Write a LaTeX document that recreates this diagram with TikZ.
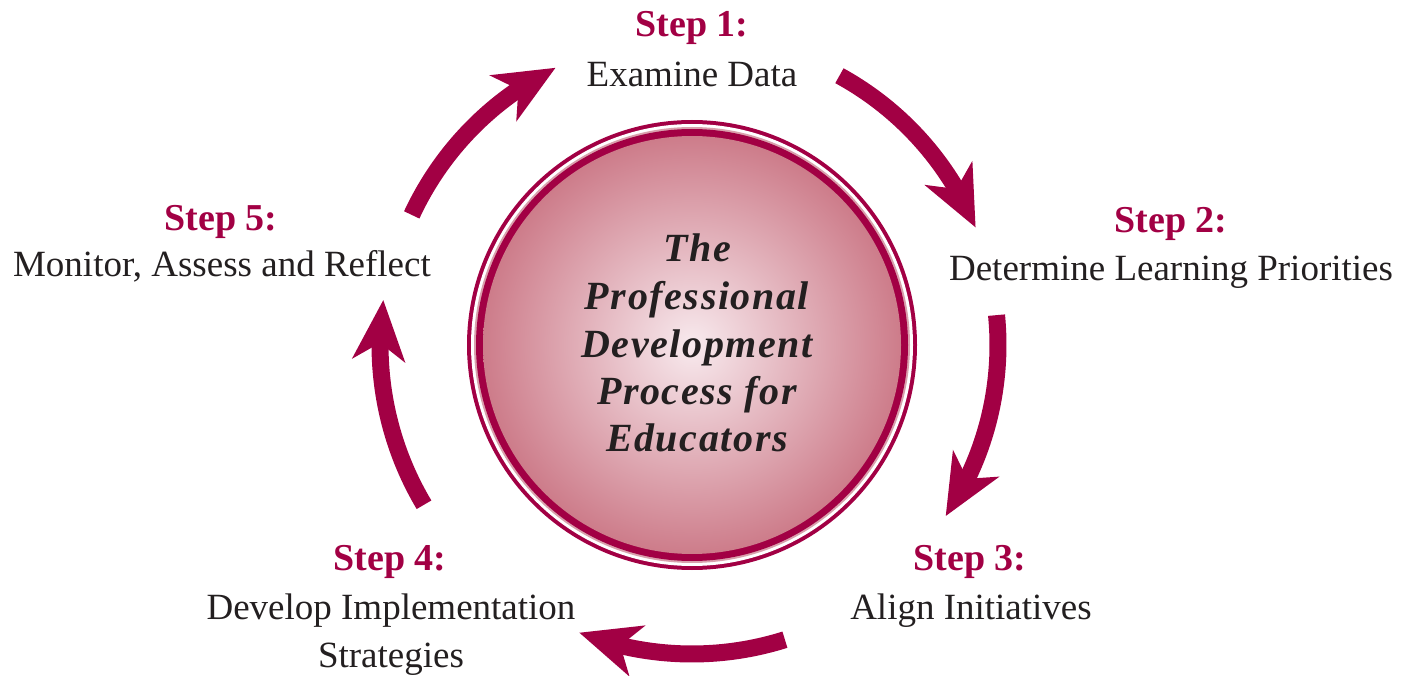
\documentclass[tikz,border=0pt]{standalone}
\usepackage{fontspec}
\setmainfont{Liberation Serif}
\newfontfamily\hubfont{Liberation Serif}[LetterSpace=4]
\usetikzlibrary{arrows.meta,bending,calc}
\definecolor{wine}{RGB}{162,0,68}
\definecolor{ink}{RGB}{35,31,32}
\definecolor{rimpink}{RGB}{217,160,172}
\definecolor{fillin}{RGB}{248,234,238}
\definecolor{fillout}{RGB}{205,124,138}
\begin{document}
\begin{tikzpicture}[x=1pt,y=1pt,
  steplabel/.style={anchor=base, text=wine, font=\fontsize{38}{42}\selectfont\bfseries, inner sep=0pt},
  bodytext/.style={anchor=base, text=ink, font=\fontsize{37}{42}\selectfont, inner sep=0pt},
  hubtext/.style={anchor=base, text=ink, font=\hubfont\fontsize{40}{44}\selectfont\bfseries\itshape, inner sep=0pt},
  cyclearrow/.style={draw=wine, line width=17pt, -{Stealth[length=60pt,width=52pt,inset=17pt]}}]
\useasboundingbox (0,0) rectangle (1401,-676);
\coordinate (c) at (692,-345);
% central disc
\fill[wine] (c) circle[radius=225];
\fill[white] (c) circle[radius=221];
\fill[rimpink] (c) circle[radius=218];
\fill[wine] (c) circle[radius=216];
\node[circle, minimum size=418pt, inner sep=0pt, inner color=fillin, outer color=fillout] (hub) at (c) {};
% centre title
\node[hubtext] (h1) at (697,-262) {The};
\node[hubtext] (h2) at (697,-310) {Professional};
\node[hubtext] (h3) at (697,-358) {Development};
\node[hubtext] (h4) at (697,-405) {Process for};
\node[hubtext] (h5) at (697,-451) {Educators};
% steps
\node[steplabel] (s1) at (692,-37) {Step 1:};
\node[bodytext] (t1) at (692,-87) {Examine Data};
\node[steplabel] (s2) at (1171,-233) {Step 2:};
\node[bodytext] (t2) at (1171,-281) {Determine Learning Priorities};
\node[steplabel] (s3) at (970,-570) {Step 3:};
\node[bodytext] (t3) at (971,-619) {Align Initiatives};
\node[steplabel] (s4) at (390,-570) {Step 4:};
\node[bodytext] (t4) at (391,-619) {Develop Implementation};
\node[bodytext] (t4b) at (391,-667) {Strategies};
\node[steplabel] (s5) at (221,-231) {Step 5:};
\node[bodytext] (t5) at (222,-277) {Monitor, Assess and Reflect};
% cycle arrows
\draw[cyclearrow] ($(c)+(61.3:307)$) arc[start angle=61.3, end angle=22.5, radius=307];
\draw[cyclearrow] ($(c)+(5.6:306)$) arc[start angle=5.6, end angle=-34, radius=306];
\draw[cyclearrow] ($(c)+(-72.5:309)$) arc[start angle=-72.5, end angle=-111.4, radius=309];
\draw[cyclearrow] ($(c)+(210.8:312)$) arc[start angle=210.8, end angle=171.7, radius=312];
\draw[cyclearrow] ($(c)+(155.1:309)$) arc[start angle=155.1, end angle=116.2, radius=309];
\end{tikzpicture}
\end{document}
